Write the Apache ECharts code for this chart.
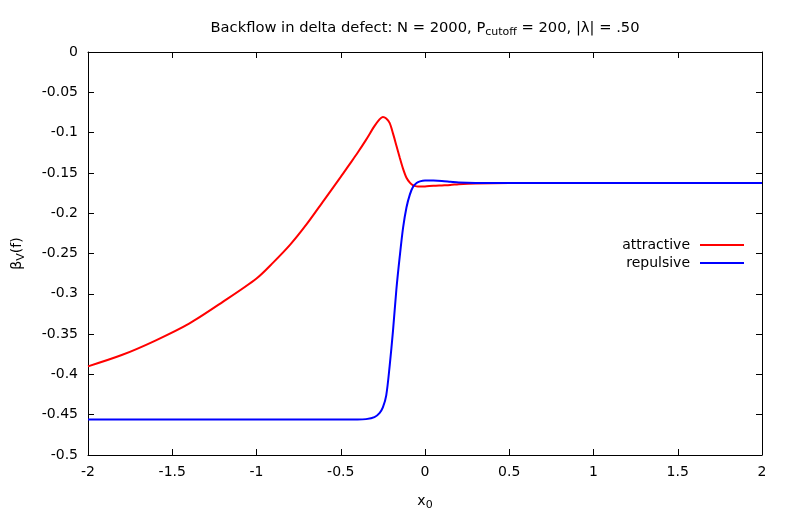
<!DOCTYPE html>
<html>
<head>
<meta charset="utf-8">
<script src="https://cdn.jsdelivr.net/npm/echarts@6/dist/echarts.min.js"></script>
<style>
  html, body { margin: 0; padding: 0; background: #fff; }
  #main { width: 789px; height: 526px; }
</style>
</head>
<body>
<div id="main"></div>
<script>
// x0 sample positions
var x0 = [-2.0, -1.8, -1.6, -1.4, -1.2, -1.0, -0.9, -0.8, -0.7, -0.6, -0.5, -0.45, -0.4, -0.35,
          -0.3, -0.27, -0.25, -0.23, -0.21, -0.19, -0.17, -0.15, -0.13, -0.11, -0.09, -0.07,
          -0.05, -0.03, 0.0, 0.05, 0.1, 0.15, 0.2, 0.3, 0.5, 1.0, 1.5, 2.0];
// attractive (red)
var attractive = [-0.390, -0.376, -0.358, -0.337, -0.310, -0.281, -0.261, -0.239, -0.213, -0.184, -0.155, -0.140, -0.125, -0.109,
                  -0.092, -0.0835, -0.0805, -0.0825, -0.088, -0.101, -0.116, -0.131, -0.145, -0.156, -0.162, -0.1655,
                  -0.1667, -0.167, -0.1668, -0.166, -0.1655, -0.165, -0.164, -0.163, -0.1625, -0.1625, -0.1625, -0.1625];
// repulsive (blue)
var repulsive = [-0.456, -0.456, -0.456, -0.456, -0.456, -0.456, -0.456, -0.456, -0.456, -0.456, -0.456, -0.456, -0.456, -0.4555,
                 -0.453, -0.448, -0.441, -0.426, -0.390, -0.346, -0.295, -0.254, -0.218, -0.193, -0.177, -0.167,
                 -0.1625, -0.1605, -0.1595, -0.1595, -0.160, -0.161, -0.162, -0.1625, -0.1625, -0.1625, -0.1625, -0.1625];
var seriesNames = ['attractive', 'repulsive'];
var seriesColors = ['#ff0000', '#0000ff'];

function pairs(xs, ys) {
    var out = [];
    for (var i = 0; i < xs.length; i++) out.push([xs[i], ys[i]]);
    return out;
}

var FONT = 'DejaVu Sans';
var chart = echarts.init(document.getElementById('main'), null, { renderer: 'canvas' });

// fresh objects for every axis (gnuplot style box, ticks inward on all four sides)
function axisLine() { return { show: true, onZero: false, lineStyle: { color: '#000', width: 1 } }; }
function tick() { return { show: true, inside: true, length: 6, lineStyle: { color: '#000', width: 1 } }; }
var subRich = { sub: { fontFamily: FONT, fontSize: 11, color: '#000', padding: [8, 0, 0, 0] } };

var option = {
    animation: false,
    backgroundColor: '#fff',
    title: {
        text: 'Backflow in delta defect: N = 2000, P{sub|cutoff} = 200, |λ| = .50',
        left: 420,
        top: 14,
        textAlign: 'center',
        textStyle: {
            color: '#000', fontFamily: FONT, fontSize: 14.7, fontWeight: 'normal',
            rich: subRich
        }
    },
    legend: {
        orient: 'vertical',
        right: 40,
        top: 233,
        align: 'right',
        itemWidth: 44,
        itemHeight: 2,
        itemGap: 4,
        textStyle: { color: '#000', fontFamily: FONT, fontSize: 14, padding: [0, 5, 0, 0] },
        data: [
            { name: seriesNames[0], icon: 'rect' },
            { name: seriesNames[1], icon: 'rect' }
        ]
    },
    grid: { left: 88, right: 27, top: 52, bottom: 71 },
    xAxis: [{
        type: 'value', min: -2, max: 2, interval: 0.5,
        position: 'bottom',
        name: 'x{sub|0}', nameLocation: 'middle', nameGap: 37,
        nameTextStyle: { color: '#000', fontFamily: FONT, fontSize: 14, rich: subRich },
        axisLine: axisLine(), axisTick: tick(), splitLine: { show: false },
        axisLabel: { margin: 10, color: '#000', fontFamily: FONT, fontSize: 14 }
    }, {
        type: 'value', min: -2, max: 2, interval: 0.5,
        position: 'top',
        axisLine: axisLine(), axisTick: tick(), splitLine: { show: false },
        axisLabel: { show: false }
    }],
    yAxis: [{
        type: 'value', min: -0.5, max: 0, interval: 0.05,
        position: 'left',
        name: 'β{sub|V}(f)', nameLocation: 'middle', nameGap: 61,
        nameTextStyle: { color: '#000', fontFamily: FONT, fontSize: 14, rich: subRich },
        axisLine: axisLine(), axisTick: tick(), splitLine: { show: false },
        axisLabel: {
            margin: 10, color: '#000', fontFamily: FONT, fontSize: 14,
            formatter: function (v) { return String(+v.toFixed(2)); }
        }
    }, {
        type: 'value', min: -0.5, max: 0, interval: 0.05,
        position: 'right',
        axisLine: axisLine(), axisTick: tick(), splitLine: { show: false },
        axisLabel: { show: false }
    }],
    series: [{
        name: seriesNames[0],
        type: 'line',
        data: pairs(x0, attractive),
        smooth: 0.3,
        symbol: 'none',
        lineStyle: { color: seriesColors[0], width: 2 },
        itemStyle: { color: seriesColors[0] }
    }, {
        name: seriesNames[1],
        type: 'line',
        data: pairs(x0, repulsive),
        smooth: 0.3,
        symbol: 'none',
        lineStyle: { color: seriesColors[1], width: 2 },
        itemStyle: { color: seriesColors[1] }
    }]
};

chart.setOption(option);
</script>
</body>
</html>
